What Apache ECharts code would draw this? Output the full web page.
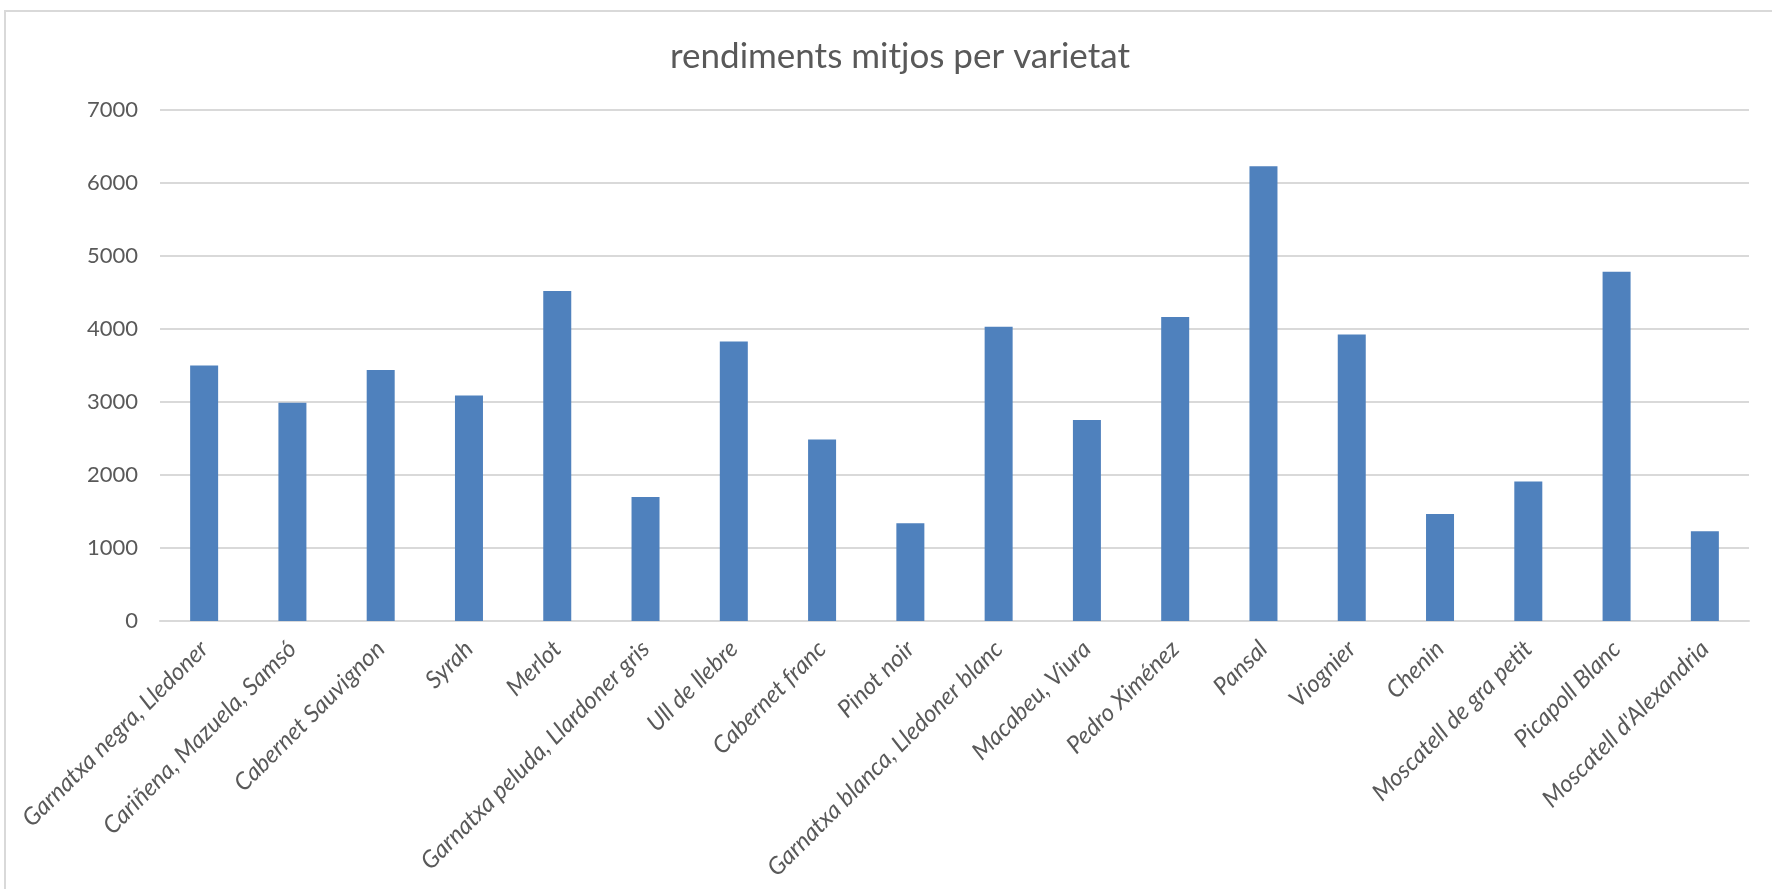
<!DOCTYPE html>
<html>
<head>
<meta charset="utf-8">
<script src="https://cdn.jsdelivr.net/npm/echarts@6/dist/echarts.min.js"></script>
<style>
  html, body { margin: 0; padding: 0; background: #fff; }
  #chart { width: 1772px; height: 889px; }
</style>
</head>
<body>
<div id="chart"></div>
<script>
var chartTitle = 'rendiments mitjos per varietat'

var varietats = [
  'Garnatxa negra, Lledoner',
  'Cariñena, Mazuela, Samsó',
  'Cabernet Sauvignon',
  'Syrah',
  'Merlot',
  'Garnatxa peluda, Llardoner gris',
  'Ull de llebre',
  'Cabernet franc',
  'Pinot noir',
  'Garnatxa blanca, Lledoner blanc',
  'Macabeu, Viura',
  'Pedro Ximénez',
  'Pansal',
  'Viognier',
  'Chenin',
  'Moscatell de gra petit',
  'Picapoll Blanc',
  "Moscatell d'Alexandria"
]

var rendiments = [3500, 2990, 3440, 3090, 4520, 1700, 3830, 2485, 1340,
  4030, 2755, 4165, 6230, 3925, 1465, 1910, 4785, 1230]

var yTicks = [0, 1000, 2000, 3000, 4000, 5000, 6000, 7000]

var textColor = '#595959'
var gridColor = '#d9d9d9'
var fontName = 'Lato'

var chart = echarts.init(document.getElementById('chart'), null, { renderer: 'canvas' })

chart.setOption({
  backgroundColor: '#fff',
  animation: false,
  title: {
    text: chartTitle,
    left: 895,
    top: 34,
    textAlign: 'center',
    textStyle: {
      color: textColor,
      fontFamily: fontName,
      fontWeight: 'normal',
      fontSize: 35
    }
  },
  // chart frame: only the top and left edges show in the reference
  graphic: [
    {
      type: 'polyline',
      shape: { points: [[5, 889], [5, 11], [1772, 11]] },
      style: { stroke: gridColor, lineWidth: 2, fill: null },
      silent: true
    }
  ],
  grid: {
    left: 160,
    right: 23,
    top: 110,
    bottom: 268,
    containLabel: false
  },
  xAxis: {
    type: 'category',
    data: varietats,
    axisLine: { lineStyle: { color: gridColor, width: 2 } },
    axisTick: { show: false },
    axisLabel: {
      interval: 0,
      rotate: 45,
      margin: 24,
      color: textColor,
      fontFamily: fontName,
      fontStyle: 'italic',
      fontSize: 24
    }
  },
  yAxis: {
    type: 'value',
    min: yTicks[0],
    max: yTicks[yTicks.length - 1],
    interval: 1000,
    axisLine: { show: false },
    axisTick: { show: false },
    splitLine: { lineStyle: { color: gridColor, width: 2 } },
    axisLabel: {
      margin: 22,
      color: textColor,
      fontFamily: fontName,
      fontSize: 22,
      formatter: function (v) { return String(v) }
    }
  },
  series: [
    {
      type: 'bar',
      data: rendiments,
      barWidth: 28,
      itemStyle: { color: '#4f81bd' }
    }
  ]
})
</script>
</body>
</html>
